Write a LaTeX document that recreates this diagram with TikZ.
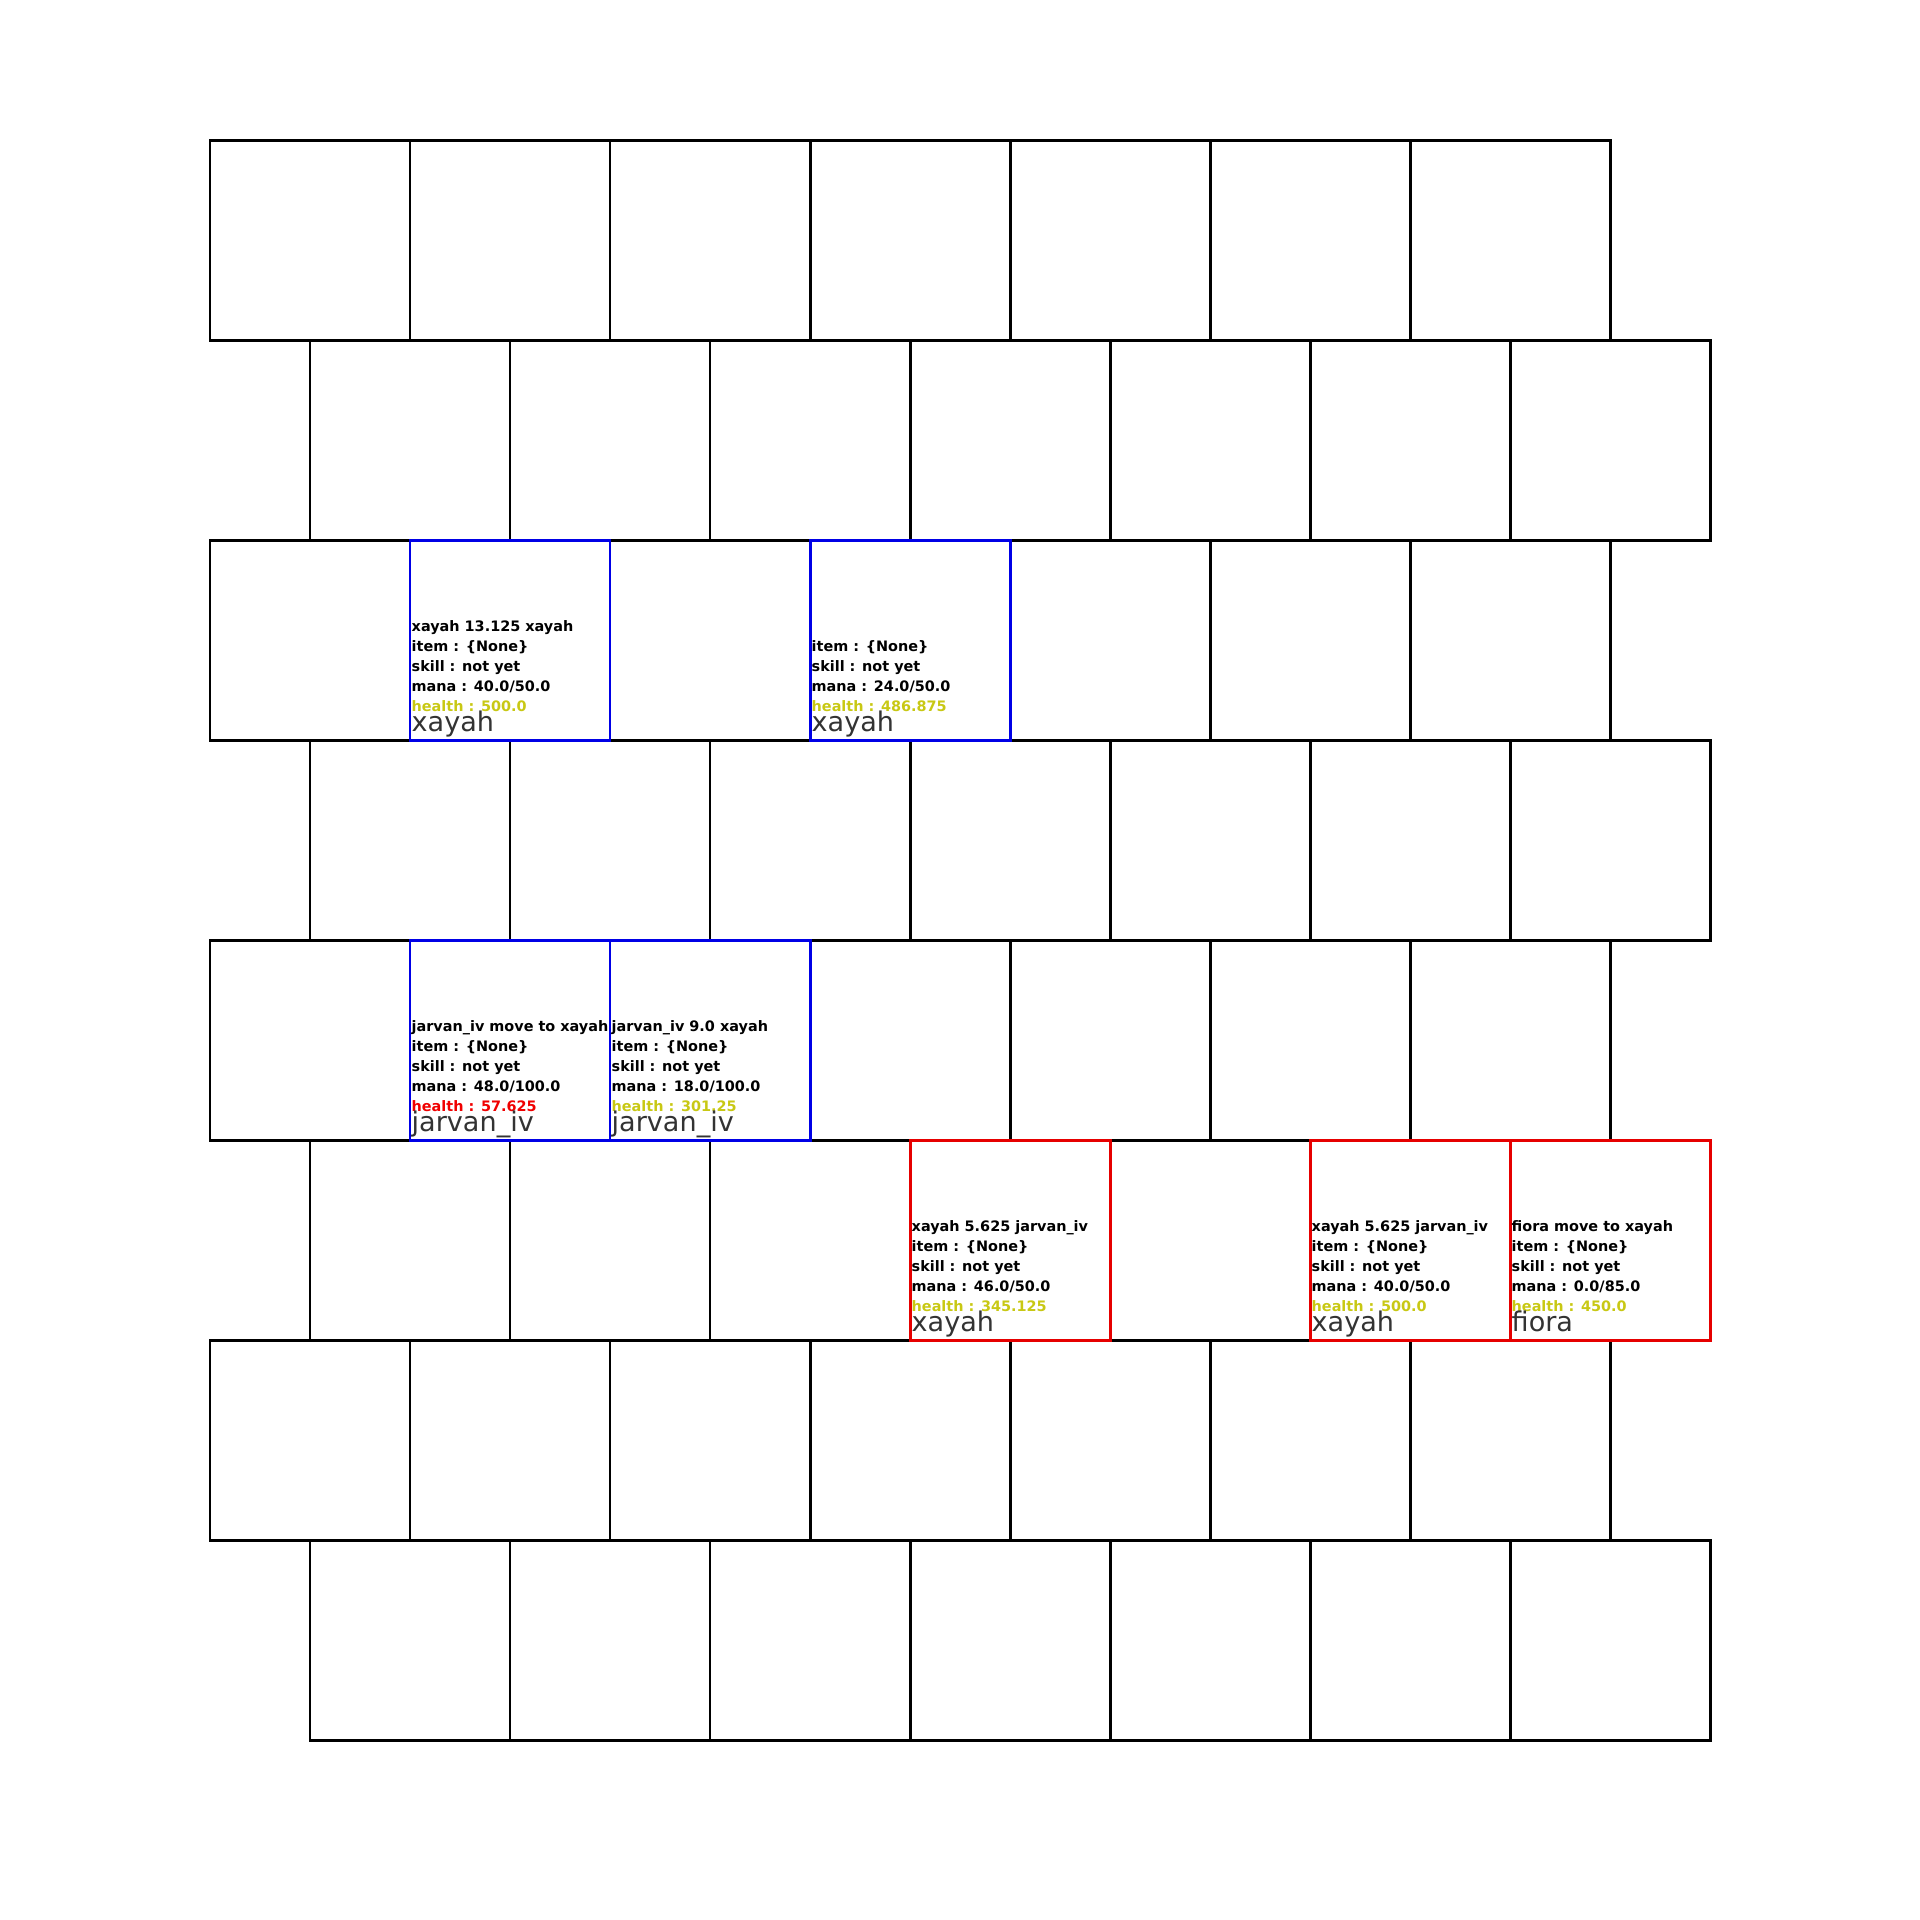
\documentclass[tikz,border=0pt]{standalone}
\usepackage{fontspec}
\setmainfont{DejaVu Sans}
\definecolor{hpyellow}{RGB}{200,200,20}
\definecolor{hpred}{RGB}{240,0,0}
\definecolor{teamblue}{RGB}{0,0,230}
\definecolor{teamred}{RGB}{230,0,0}
\tikzset{
    cell/.style={draw=black, line width=0.85pt},
    bluebox/.style={draw=teamblue, line width=0.85pt},
    redbox/.style={draw=teamred, line width=0.85pt},
    info/.style={anchor=base west, inner sep=0pt, font=\bfseries\fontsize{4.1}{5}\selectfont},
    champ/.style={anchor=base west, inner sep=0pt, text=black!80, font=\fontsize{7.7}{9}\selectfont}
}
\begin{document}
\begin{tikzpicture}[x=0.01cm, y=-0.01cm]
    \useasboundingbox (0,0) rectangle (1920,1920);
    % board
    \foreach \r in {0,...,7} {
        \pgfmathsetmacro{\off}{mod(\r,2)*100}
        \foreach \c in {0,...,6} {
            \draw[cell] ({210+\off+200*\c},{140+200*\r}) rectangle ++(200,200);
        }
    }
    % blue team
    \begin{scope}[shift={(410,540)}]
        \draw[bluebox] (0,0) rectangle (200,200);
        \node[info] (xb1-act) at (1,91) {xayah 13.125 xayah};
        \node[info] (xb1-item) at (1,111) {item : \{None\}};
        \node[info] (xb1-skill) at (1,131) {skill : not yet};
        \node[info] (xb1-mana) at (1,151) {mana : 40.0/50.0};
        \node[info, text=hpyellow] (xb1-hp) at (1,171) {health : 500.0};
        \node[champ] (xb1-name) at (1,191) {xayah};
    \end{scope}
    \begin{scope}[shift={(810,540)}]
        \draw[bluebox] (0,0) rectangle (200,200);
        \node[info] (xb2-item) at (1,111) {item : \{None\}};
        \node[info] (xb2-skill) at (1,131) {skill : not yet};
        \node[info] (xb2-mana) at (1,151) {mana : 24.0/50.0};
        \node[info, text=hpyellow] (xb2-hp) at (1,171) {health : 486.875};
        \node[champ] (xb2-name) at (1,191) {xayah};
    \end{scope}
    \begin{scope}[shift={(410,940)}]
        \draw[bluebox] (0,0) rectangle (200,200);
        \node[info] (jb1-act) at (1,91) {jarvan\_iv move to xayah};
        \node[info] (jb1-item) at (1,111) {item : \{None\}};
        \node[info] (jb1-skill) at (1,131) {skill : not yet};
        \node[info] (jb1-mana) at (1,151) {mana : 48.0/100.0};
        \node[info, text=hpred] (jb1-hp) at (1,171) {health : 57.625};
        \node[champ] (jb1-name) at (1,191) {jarvan\_iv};
    \end{scope}
    \begin{scope}[shift={(610,940)}]
        \draw[bluebox] (0,0) rectangle (200,200);
        \node[info] (jb2-act) at (1,91) {jarvan\_iv 9.0 xayah};
        \node[info] (jb2-item) at (1,111) {item : \{None\}};
        \node[info] (jb2-skill) at (1,131) {skill : not yet};
        \node[info] (jb2-mana) at (1,151) {mana : 18.0/100.0};
        \node[info, text=hpyellow] (jb2-hp) at (1,171) {health : 301.25};
        \node[champ] (jb2-name) at (1,191) {jarvan\_iv};
    \end{scope}
    % red team
    \begin{scope}[shift={(910,1140)}]
        \draw[redbox] (0,0) rectangle (200,200);
        \node[info] (xr1-act) at (1,91) {xayah 5.625 jarvan\_iv};
        \node[info] (xr1-item) at (1,111) {item : \{None\}};
        \node[info] (xr1-skill) at (1,131) {skill : not yet};
        \node[info] (xr1-mana) at (1,151) {mana : 46.0/50.0};
        \node[info, text=hpyellow] (xr1-hp) at (1,171) {health : 345.125};
        \node[champ] (xr1-name) at (1,191) {xayah};
    \end{scope}
    \begin{scope}[shift={(1310,1140)}]
        \draw[redbox] (0,0) rectangle (200,200);
        \node[info] (xr2-act) at (1,91) {xayah 5.625 jarvan\_iv};
        \node[info] (xr2-item) at (1,111) {item : \{None\}};
        \node[info] (xr2-skill) at (1,131) {skill : not yet};
        \node[info] (xr2-mana) at (1,151) {mana : 40.0/50.0};
        \node[info, text=hpyellow] (xr2-hp) at (1,171) {health : 500.0};
        \node[champ] (xr2-name) at (1,191) {xayah};
    \end{scope}
    \begin{scope}[shift={(1510,1140)}]
        \draw[redbox] (0,0) rectangle (200,200);
        \node[info] (fr-act) at (1,91) {fiora move to xayah};
        \node[info] (fr-item) at (1,111) {item : \{None\}};
        \node[info] (fr-skill) at (1,131) {skill : not yet};
        \node[info] (fr-mana) at (1,151) {mana : 0.0/85.0};
        \node[info, text=hpyellow] (fr-hp) at (1,171) {health : 450.0};
        \node[champ] (fr-name) at (1,191) {fiora};
    \end{scope}
\end{tikzpicture}
\end{document}
